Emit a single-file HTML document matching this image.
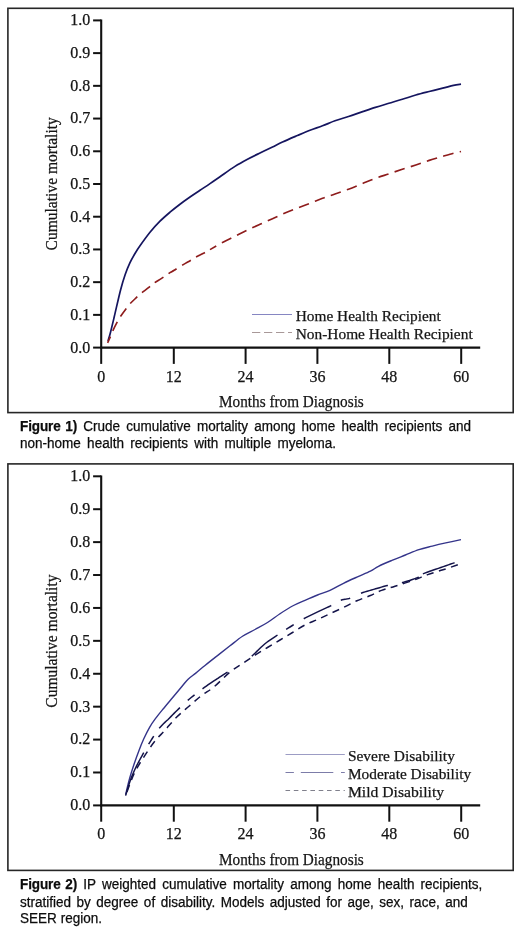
<!DOCTYPE html>
<html lang="en"><head><meta charset="utf-8"><title>Figures</title>
<style>
html,body{margin:0;padding:0;background:#fff;}
body{width:520px;height:931px;position:relative;overflow:hidden;font-family:"Liberation Sans",sans-serif;}
svg{position:absolute;left:0;top:0;display:block}
svg text{font-family:"Liberation Serif",serif;fill:#151515;stroke:#151515;stroke-width:0.25px;}
.tk{font-size:16px}
.lb{font-size:15.6px}
.xl{font-size:17px}
.yl{font-size:17.6px}
.cap{position:absolute;left:20px;font-family:"Liberation Sans",sans-serif;font-size:14px;line-height:16px;transform:scaleX(0.965);transform-origin:0 0;color:#0c0c0c;-webkit-text-stroke:0.25px #0c0c0c;white-space:nowrap;text-align:justify;text-align-last:justify;height:16px}
.cap.l{text-align-last:left}
.cap b{font-weight:bold;letter-spacing:-0.1px;word-spacing:-1.5px}
</style></head><body>
<svg width="520" height="931" viewBox="0 0 520 931"><rect x="7.9" y="8.3" width="505.3" height="404.3" fill="#fff" stroke="#262626" stroke-width="1.6"/><rect x="7.9" y="463.9" width="505.3" height="406.5" fill="#fff" stroke="#262626" stroke-width="1.6"/><path d="M101.20 19.50 V348.50" stroke="#111" stroke-width="2.1" fill="none"/><path d="M100.20 347.60 H480.20" stroke="#111" stroke-width="2.1" fill="none"/><path d="M93.10 347.60 H101.20" stroke="#111" stroke-width="2"/><text x="90.30" y="352.50" text-anchor="end" class="tk">0.0</text><path d="M93.10 314.88 H101.20" stroke="#111" stroke-width="2"/><text x="90.30" y="319.78" text-anchor="end" class="tk">0.1</text><path d="M93.10 282.16 H101.20" stroke="#111" stroke-width="2"/><text x="90.30" y="287.06" text-anchor="end" class="tk">0.2</text><path d="M93.10 249.44 H101.20" stroke="#111" stroke-width="2"/><text x="90.30" y="254.34" text-anchor="end" class="tk">0.3</text><path d="M93.10 216.72 H101.20" stroke="#111" stroke-width="2"/><text x="90.30" y="221.62" text-anchor="end" class="tk">0.4</text><path d="M93.10 184.00 H101.20" stroke="#111" stroke-width="2"/><text x="90.30" y="188.90" text-anchor="end" class="tk">0.5</text><path d="M93.10 151.28 H101.20" stroke="#111" stroke-width="2"/><text x="90.30" y="156.18" text-anchor="end" class="tk">0.6</text><path d="M93.10 118.56 H101.20" stroke="#111" stroke-width="2"/><text x="90.30" y="123.46" text-anchor="end" class="tk">0.7</text><path d="M93.10 85.84 H101.20" stroke="#111" stroke-width="2"/><text x="90.30" y="90.74" text-anchor="end" class="tk">0.8</text><path d="M93.10 53.12 H101.20" stroke="#111" stroke-width="2"/><text x="90.30" y="58.02" text-anchor="end" class="tk">0.9</text><path d="M93.10 20.40 H101.20" stroke="#111" stroke-width="2"/><text x="90.30" y="25.30" text-anchor="end" class="tk">1.0</text><path d="M101.20 347.60 V363.90" stroke="#111" stroke-width="2"/><text x="101.20" y="381.60" text-anchor="middle" class="tk">0</text><path d="M173.80 347.60 V363.90" stroke="#111" stroke-width="2"/><text x="173.80" y="381.60" text-anchor="middle" class="tk">12</text><path d="M245.60 347.60 V363.90" stroke="#111" stroke-width="2"/><text x="245.60" y="381.60" text-anchor="middle" class="tk">24</text><path d="M317.40 347.60 V363.90" stroke="#111" stroke-width="2"/><text x="317.40" y="381.60" text-anchor="middle" class="tk">36</text><path d="M389.30 347.60 V363.90" stroke="#111" stroke-width="2"/><text x="389.30" y="381.60" text-anchor="middle" class="tk">48</text><path d="M461.20 347.60 V363.90" stroke="#111" stroke-width="2"/><text x="461.20" y="381.60" text-anchor="middle" class="tk">60</text><path d="M108.00 341.00 C108.37 339.75 109.17 337.50 110.20 333.50 C111.23 329.50 112.48 324.22 114.20 317.00 C115.92 309.78 118.67 297.28 120.50 290.20 C122.33 283.12 123.62 279.08 125.20 274.50 C126.78 269.92 128.37 266.20 130.00 262.70 C131.63 259.20 133.33 256.32 135.00 253.50 C136.67 250.68 137.50 249.33 140.00 245.80 C142.50 242.27 146.67 236.40 150.00 232.30 C153.33 228.20 156.67 224.55 160.00 221.20 C163.33 217.85 166.67 215.03 170.00 212.20 C173.33 209.37 176.67 206.73 180.00 204.20 C183.33 201.67 186.67 199.32 190.00 197.00 C193.33 194.68 196.67 192.53 200.00 190.30 C203.33 188.07 206.67 185.87 210.00 183.60 C213.33 181.33 215.83 179.57 220.00 176.70 C224.17 173.83 230.42 169.31 235.00 166.40 C239.58 163.49 243.33 161.48 247.50 159.25 C251.67 157.02 255.83 155.04 260.00 153.00 C264.17 150.96 268.75 148.83 272.50 147.00 C276.25 145.17 278.33 143.92 282.50 142.00 C286.67 140.08 292.92 137.45 297.50 135.50 C302.08 133.55 305.83 131.92 310.00 130.30 C314.17 128.68 318.33 127.38 322.50 125.80 C326.67 124.22 330.67 122.35 335.00 120.80 C339.33 119.25 344.02 117.98 348.50 116.50 C352.98 115.02 357.42 113.43 361.90 111.90 C366.38 110.38 370.91 108.78 375.40 107.35 C379.89 105.92 384.37 104.64 388.85 103.30 C393.33 101.96 397.81 100.68 402.30 99.30 C406.79 97.92 411.32 96.30 415.80 95.00 C420.28 93.70 424.72 92.63 429.20 91.50 C433.68 90.37 438.65 89.23 442.70 88.20 C446.75 87.17 450.45 85.97 453.50 85.30 C456.55 84.63 459.75 84.38 461.00 84.20" stroke="#15155f" stroke-width="1.7" fill="none"/><path d="M107.60 342.80 C108.07 341.77 109.58 338.50 110.40 336.60 C111.22 334.70 111.35 333.85 112.50 331.40 C113.65 328.95 115.92 324.47 117.30 321.90 C118.68 319.33 119.25 318.32 120.80 316.00 C122.35 313.68 125.07 310.03 126.60 308.00 C128.13 305.97 128.47 305.45 130.00 303.80 C131.53 302.15 134.00 299.82 135.80 298.10 C137.60 296.38 138.68 295.23 140.80 293.50 C142.92 291.77 146.45 289.33 148.50 287.70 C150.55 286.07 150.98 285.22 153.10 283.70 C155.22 282.18 158.90 280.08 161.20 278.60 C163.50 277.12 165.43 275.80 166.90 274.80 C168.37 273.80 168.78 273.35 170.00 272.60 C171.22 271.85 172.47 271.37 174.20 270.30 C175.93 269.23 177.97 267.67 180.40 266.20 C182.83 264.73 186.43 262.90 188.80 261.50 C191.17 260.10 192.15 259.17 194.60 257.80 C197.05 256.43 200.93 254.67 203.50 253.30 C206.07 251.93 208.92 250.22 210.00 249.60" stroke="#8e1c1c" stroke-width="1.65" fill="none" stroke-dasharray="9.8 6.4" stroke-dashoffset="3.0"/><path d="M461.00 151.50 C459.97 151.72 457.85 152.04 454.80 152.85 C451.75 153.66 446.97 155.09 442.70 156.35 C438.43 157.61 433.68 158.96 429.20 160.40 C424.72 161.84 420.28 163.52 415.80 165.00 C411.32 166.48 406.79 167.83 402.30 169.30 C397.81 170.78 393.33 172.33 388.85 173.85 C384.37 175.37 379.89 176.74 375.40 178.40 C370.91 180.06 366.38 182.00 361.90 183.80 C357.42 185.60 352.98 187.50 348.50 189.20 C344.02 190.90 339.33 192.49 335.00 194.00 C330.67 195.51 326.67 196.71 322.50 198.25 C318.33 199.79 314.17 201.62 310.00 203.25 C305.83 204.88 301.67 206.38 297.50 208.00 C293.33 209.62 289.17 211.21 285.00 213.00 C280.83 214.79 276.67 216.88 272.50 218.75 C268.33 220.62 264.17 222.38 260.00 224.25 C255.83 226.12 251.67 228.00 247.50 230.00 C243.33 232.00 239.17 234.17 235.00 236.25 C230.83 238.33 226.67 240.28 222.50 242.50 C218.33 244.72 212.08 248.42 210.00 249.60" stroke="#8e1c1c" stroke-width="1.65" fill="none" stroke-dasharray="10.6 6.4" stroke-dashoffset="9.1"/><text transform="translate(57.4,250.4) rotate(-90)" class="lb yl" textLength="133.2" lengthAdjust="spacingAndGlyphs">Cumulative mortality</text><text x="219" y="407.4" class="lb xl" textLength="144.8" lengthAdjust="spacingAndGlyphs">Months from Diagnosis</text><path d="M252 314.5 H292" stroke="#8686c2" stroke-width="1"/><path d="M252 332.5 H292" stroke="#a89898" stroke-width="1" stroke-dasharray="8.3 3.7"/><text x="295.7" y="321" class="lb" textLength="145" lengthAdjust="spacingAndGlyphs">Home Health Recipient</text><text x="295.7" y="338.8" class="lb" textLength="177" lengthAdjust="spacingAndGlyphs">Non-Home Health Recipient</text><path d="M101.20 475.40 V806.30" stroke="#111" stroke-width="2.1" fill="none"/><path d="M100.20 805.40 H480.20" stroke="#111" stroke-width="2.1" fill="none"/><path d="M93.10 805.40 H101.20" stroke="#111" stroke-width="2"/><text x="90.30" y="810.30" text-anchor="end" class="tk">0.0</text><path d="M93.10 772.49 H101.20" stroke="#111" stroke-width="2"/><text x="90.30" y="777.39" text-anchor="end" class="tk">0.1</text><path d="M93.10 739.58 H101.20" stroke="#111" stroke-width="2"/><text x="90.30" y="744.48" text-anchor="end" class="tk">0.2</text><path d="M93.10 706.67 H101.20" stroke="#111" stroke-width="2"/><text x="90.30" y="711.57" text-anchor="end" class="tk">0.3</text><path d="M93.10 673.76 H101.20" stroke="#111" stroke-width="2"/><text x="90.30" y="678.66" text-anchor="end" class="tk">0.4</text><path d="M93.10 640.85 H101.20" stroke="#111" stroke-width="2"/><text x="90.30" y="645.75" text-anchor="end" class="tk">0.5</text><path d="M93.10 607.94 H101.20" stroke="#111" stroke-width="2"/><text x="90.30" y="612.84" text-anchor="end" class="tk">0.6</text><path d="M93.10 575.03 H101.20" stroke="#111" stroke-width="2"/><text x="90.30" y="579.93" text-anchor="end" class="tk">0.7</text><path d="M93.10 542.12 H101.20" stroke="#111" stroke-width="2"/><text x="90.30" y="547.02" text-anchor="end" class="tk">0.8</text><path d="M93.10 509.21 H101.20" stroke="#111" stroke-width="2"/><text x="90.30" y="514.11" text-anchor="end" class="tk">0.9</text><path d="M93.10 476.30 H101.20" stroke="#111" stroke-width="2"/><text x="90.30" y="481.20" text-anchor="end" class="tk">1.0</text><path d="M101.20 805.40 V821.70" stroke="#111" stroke-width="2"/><text x="101.20" y="839.40" text-anchor="middle" class="tk">0</text><path d="M173.80 805.40 V821.70" stroke="#111" stroke-width="2"/><text x="173.80" y="839.40" text-anchor="middle" class="tk">12</text><path d="M245.60 805.40 V821.70" stroke="#111" stroke-width="2"/><text x="245.60" y="839.40" text-anchor="middle" class="tk">24</text><path d="M317.40 805.40 V821.70" stroke="#111" stroke-width="2"/><text x="317.40" y="839.40" text-anchor="middle" class="tk">36</text><path d="M389.30 805.40 V821.70" stroke="#111" stroke-width="2"/><text x="389.30" y="839.40" text-anchor="middle" class="tk">48</text><path d="M461.20 805.40 V821.70" stroke="#111" stroke-width="2"/><text x="461.20" y="839.40" text-anchor="middle" class="tk">60</text><path d="M125.60 794.60 C126.23 792.03 127.97 784.33 129.40 779.20 C130.83 774.07 132.60 768.60 134.20 763.80 C135.80 759.00 137.40 754.57 139.00 750.40 C140.60 746.23 142.03 742.65 143.80 738.80 C145.57 734.95 147.67 730.65 149.60 727.30 C151.53 723.95 153.15 721.75 155.40 718.70 C157.65 715.65 160.22 712.53 163.10 709.00 C165.98 705.47 169.50 701.33 172.70 697.50 C175.90 693.67 179.73 689.05 182.30 686.00 C184.87 682.95 185.85 681.35 188.10 679.20 C190.35 677.05 192.98 675.38 195.80 673.10 C198.62 670.82 201.38 668.42 205.00 665.50 C208.62 662.58 213.33 658.88 217.50 655.60 C221.67 652.32 225.83 649.02 230.00 645.80 C234.17 642.57 238.33 638.97 242.50 636.25 C246.67 633.53 250.83 631.79 255.00 629.50 C259.17 627.21 263.33 625.12 267.50 622.50 C271.67 619.88 275.83 616.50 280.00 613.75 C284.17 611.00 288.33 608.24 292.50 606.00 C296.67 603.76 300.83 602.13 305.00 600.30 C309.17 598.47 313.33 596.65 317.50 595.00 C321.67 593.35 325.67 592.35 330.00 590.40 C334.33 588.45 339.02 585.52 343.50 583.30 C347.98 581.08 352.42 579.12 356.90 577.10 C361.38 575.08 366.80 573.00 370.40 571.20 C374.00 569.40 374.92 568.10 378.50 566.30 C382.08 564.50 387.42 562.28 391.90 560.40 C396.38 558.52 400.90 556.80 405.40 555.00 C409.90 553.20 414.42 551.08 418.90 549.60 C423.38 548.12 427.82 547.22 432.30 546.10 C436.78 544.98 441.02 543.98 445.80 542.90 C450.58 541.82 458.47 540.15 461.00 539.60" stroke="#34348a" stroke-width="1.4" fill="none"/><path d="M125.60 795.60 L126.05 794.11 L126.66 792.05 L127.38 789.61 L128.18 786.96 L129.02 784.28 L129.86 781.73 L130.67 779.48 L131.48 777.36 L132.32 775.29 L133.18 773.27 L134.06 771.28 L134.97 769.31 L135.89 767.35 L136.83 765.41 L137.80 763.50 L138.80 761.61 L139.81 759.75 L140.83 757.90 L141.86 756.05 L142.90 754.20 L143.75 752.67 M148.63 744.22 L149.80 742.32 L151.05 740.33 L152.37 738.23 L153.74 736.07 M159.20 728.30 L160.61 726.65 L162.02 725.15 L163.44 723.76 L164.87 722.42 L166.32 721.07 L167.80 719.68 L169.31 718.19 L170.86 716.63 L172.44 715.02 L174.04 713.40 L175.65 711.78 L177.26 710.17 L178.87 708.61 L179.93 707.60 M187.76 700.41 L189.43 698.98 L191.17 697.53 L192.99 696.06 L194.55 694.82 M202.50 688.80 L204.40 687.43 L206.33 686.07 L208.26 684.74 L210.18 683.43 L212.05 682.17 L213.85 680.97 L215.54 679.84 L217.00 678.87 L218.29 678.02 L219.53 677.22 L220.86 676.37 L222.40 675.39 L224.28 674.21 L226.65 672.71 L227.58 672.14 M251.81 656.11 L253.28 654.80 L254.97 653.20 L256.82 651.40 L258.77 649.49 L260.76 647.56 L262.75 645.70 L264.69 644.01 L266.56 642.51 L268.44 641.11 L270.31 639.78 L272.19 638.51 L274.06 637.27 L275.94 636.04 L277.50 635.00 M286.16 629.39 L288.06 628.21 L290.00 627.00 L291.99 625.76 L293.69 624.71 M303.75 618.75 L305.81 617.65 L307.87 616.61 L309.94 615.60 L312.00 614.61 L314.06 613.63 L316.12 612.66 L318.19 611.67 L320.32 610.66 L322.48 609.66 L324.64 608.66 L326.75 607.68 L328.77 606.72 L330.66 605.80 L331.25 605.50 M340.80 600.20 L342.20 599.74 L343.59 599.42 L344.96 599.19 L346.35 598.99 L347.76 598.75 L349.20 598.41 L350.20 598.10 M361.00 593.20 L362.94 592.53 L365.00 591.87 L367.14 591.23 L369.33 590.60 L371.50 589.99 L373.63 589.39 L375.67 588.81 L377.62 588.23 L379.52 587.67 L381.40 587.12 L383.29 586.58 L385.22 586.07 L387.21 585.56 L387.90 585.40 M401.93 582.70 L404.32 582.05 L406.94 581.27 L409.66 580.41 L412.36 579.52 L414.89 578.64 L417.12 577.81 L418.90 577.10 M422.90 573.90 L424.78 573.13 L427.15 572.25 L429.84 571.30 L432.71 570.31 L435.59 569.32 L438.33 568.38 L440.80 567.52 L443.31 566.63 L445.88 565.74 L448.37 564.87 L450.67 564.07 L452.65 563.38 L454.20 562.84 L454.60 562.70 " stroke="#14144a" stroke-width="1.5" fill="none"/><path d="M457.80 564.80 C455.33 565.63 448.02 568.17 443.00 569.80 C437.98 571.43 432.50 572.90 427.70 574.60 C422.90 576.30 419.65 578.07 414.20 580.00 C408.75 581.93 400.45 584.47 395.00 586.20 C389.55 587.93 385.60 588.85 381.50 590.40 C377.40 591.95 374.50 593.77 370.40 595.50 C366.30 597.23 361.38 598.80 356.90 600.80 C352.42 602.80 347.98 605.35 343.50 607.50 C339.02 609.65 334.33 611.70 330.00 613.70 C325.67 615.70 321.67 617.62 317.50 619.50 C313.33 621.38 309.17 622.83 305.00 625.00 C300.83 627.17 296.67 630.00 292.50 632.50 C288.33 635.00 284.17 637.50 280.00 640.00 C275.83 642.50 271.67 644.97 267.50 647.50 C263.33 650.03 259.17 652.52 255.00 655.20 C250.83 657.88 246.67 660.80 242.50 663.60 C238.33 666.40 234.75 668.12 230.00 672.00 C225.25 675.88 218.75 682.97 214.00 686.90 C209.25 690.83 205.67 692.37 201.50 695.60 C197.33 698.83 193.17 702.68 189.00 706.30 C184.83 709.92 180.50 713.32 176.50 717.30 C172.50 721.28 168.68 726.12 165.00 730.20 C161.32 734.28 157.93 737.32 154.40 741.80 C150.87 746.28 147.17 751.82 143.80 757.10 C140.43 762.38 137.23 767.08 134.20 773.50 C131.17 779.92 127.03 791.92 125.60 795.60" stroke="#14144a" stroke-width="1.5" fill="none" stroke-dasharray="7.2 5.5"/><text transform="translate(57.4,707.7) rotate(-90)" class="lb yl" textLength="133.2" lengthAdjust="spacingAndGlyphs">Cumulative mortality</text><text x="219" y="864.9" class="lb xl" textLength="144.8" lengthAdjust="spacingAndGlyphs">Months from Diagnosis</text><path d="M285.5 754.5 H344.8" stroke="#9c9cc4" stroke-width="1"/><path d="M285.5 772.5 H293.9 M300.8 772.5 H333.3 M341 772.5 H344.8" stroke="#7c7ca8" stroke-width="1"/><path d="M285.5 790.5 H344.8" stroke="#80808c" stroke-width="1" stroke-dasharray="4.6 3.7"/><text x="347.9" y="760.5" class="lb" textLength="107" lengthAdjust="spacingAndGlyphs">Severe Disability</text><text x="347.9" y="778.5" class="lb" textLength="123.2" lengthAdjust="spacingAndGlyphs">Moderate Disability</text><text x="347.9" y="796.6" class="lb" textLength="96.2" lengthAdjust="spacingAndGlyphs">Mild Disability</text></svg>
<div class="cap" style="top:418.00px;width:467.36px"><b>Figure 1)</b> Crude cumulative mortality among home health recipients and</div>
<div class="cap" style="top:434.50px;width:327.46px">non-home health recipients with multiple myeloma.</div>
<div class="cap" style="top:876.00px;width:478.96px"><b>Figure 2)</b> IP weighted cumulative mortality among home health recipients,</div>
<div class="cap" style="top:893.50px;width:463.94px">stratified by degree of disability. Models adjusted for age, sex, race, and</div>
<div class="cap" style="top:910.30px;width:84.97px">SEER region.</div>
</body></html>
